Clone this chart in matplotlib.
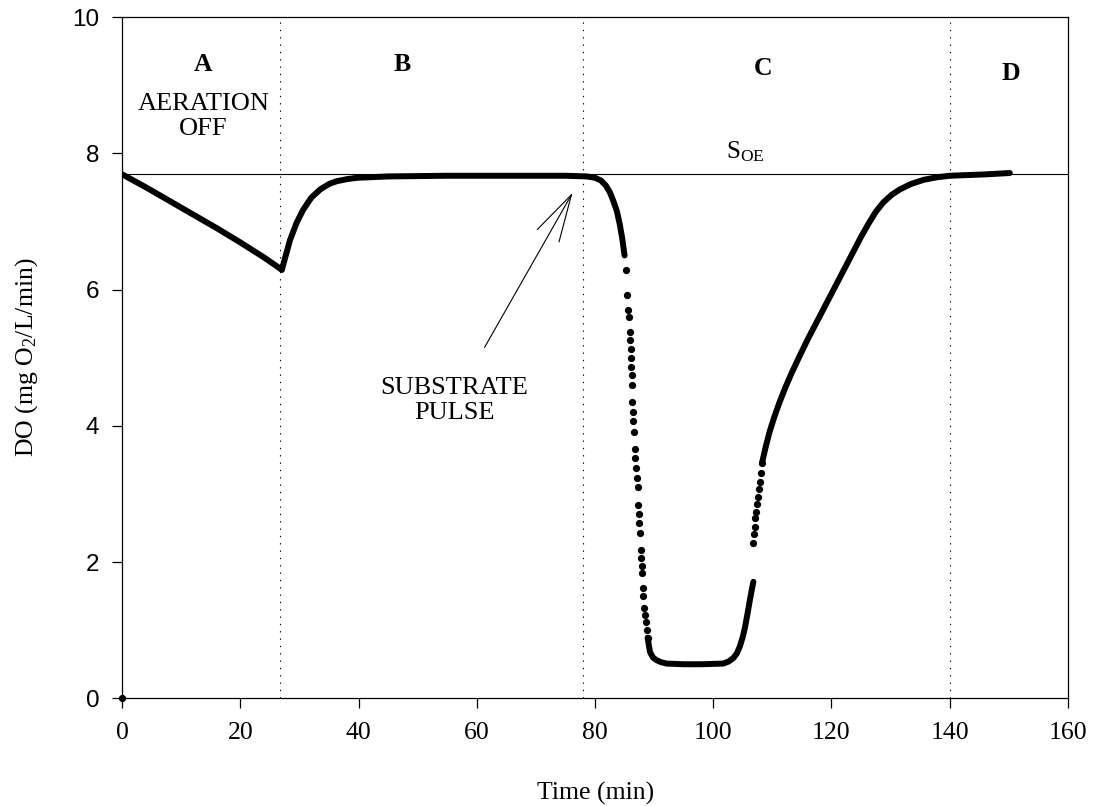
import matplotlib
matplotlib.use('Agg')
import matplotlib.pyplot as plt

plt.rcParams['font.family'] = 'Liberation Serif'
plt.rcParams['mathtext.fontset'] = 'custom'
plt.rcParams['mathtext.rm'] = 'Liberation Serif'
plt.rcParams['mathtext.it'] = 'Liberation Serif:italic'
plt.rcParams['mathtext.bf'] = 'Liberation Serif:bold'

# DO readings (mg O2/L/min) against time (min), split by how densely the dots sit
t_aeration_off = [0, 4, 8, 12, 16, 20, 24, 27.0]
do_aeration_off = [7.69, 7.50, 7.30, 7.10, 6.90, 6.69, 6.47, 6.29]

t_reaeration = [27.0, 27.5, 28.4, 29.5, 30.6, 32, 33.5, 35, 36.3, 38, 39.7, 45, 55,
                65, 75, 78.6, 80, 81, 81.8, 82.5, 83.1, 83.7, 84.2, 84.6, 85.0]
do_reaeration = [6.29, 6.45, 6.73, 6.98, 7.17, 7.35, 7.47, 7.55, 7.59, 7.62, 7.64, 7.66,
                 7.67, 7.67, 7.67, 7.66, 7.64, 7.60, 7.53, 7.43, 7.30, 7.15, 6.95, 6.75,
                 6.50]

t_drop = [85.2, 85.4, 85.6, 85.7, 85.9, 86.0, 86.05, 86.1, 86.15, 86.2, 86.2, 86.3,
          86.4, 86.5, 86.6, 86.7, 86.8, 86.9, 87.05, 87.2, 87.3, 87.4, 87.5, 87.6,
          87.7, 87.8, 87.9, 88.0, 88.1, 88.2, 88.3, 88.45, 88.6, 88.75, 88.9]
do_drop = [6.29, 5.92, 5.70, 5.59, 5.37, 5.26, 5.13, 4.99, 4.87, 4.74, 4.60, 4.35,
           4.20, 4.07, 3.91, 3.66, 3.52, 3.38, 3.24, 3.10, 2.84, 2.70, 2.57, 2.43,
           2.18, 2.06, 1.94, 1.84, 1.62, 1.50, 1.33, 1.22, 1.12, 1.00, 0.89]

t_trough = [88.9, 89.3, 89.8, 90.4, 91.2, 92.1, 95, 98, 101.7, 102.6, 103.4, 104.0,
            104.5, 105.0, 105.4, 105.8, 106.2, 106.5, 106.8]
do_trough = [0.89, 0.68, 0.60, 0.56, 0.53, 0.51, 0.50, 0.50, 0.51, 0.54, 0.59, 0.66,
             0.76, 0.90, 1.05, 1.24, 1.44, 1.58, 1.71]

t_jump = [106.8, 106.9, 107.0, 107.15, 107.3, 107.45, 107.6, 107.75, 107.9, 108.05, 108.25]
do_jump = [2.28, 2.41, 2.52, 2.64, 2.74, 2.85, 2.96, 3.07, 3.17, 3.30, 3.45]

t_recovery = [108.25, 108.8, 109.5, 110.3, 111.2, 112.2, 113.3, 114.6, 116, 117.5,
              119, 120.5, 122, 123.5, 125, 126.3, 127.5, 128.8, 130.2, 131.6,
              133.5, 135.6, 138, 140.1, 143, 146, 150.2]
do_recovery = [3.45, 3.66, 3.90, 4.12, 4.34, 4.56, 4.78, 5.02, 5.27, 5.52,
               5.77, 6.02, 6.27, 6.52, 6.77, 6.97, 7.14, 7.28, 7.39, 7.47,
               7.55, 7.61, 7.65, 7.67, 7.68, 7.69, 7.71]

s_oe = 7.69
phase_bounds = [26.7, 78.0, 140.0]
phase_names = ['A', 'B', 'C', 'D']
phase_x = [13.7, 47.4, 108.5, 150.4]
phase_y = [9.3, 9.3, 9.25, 9.17]

fig = plt.figure(figsize=(10.93, 8.06), dpi=100)
ax = fig.add_axes([0.1119, 0.1336, 0.8650, 0.8453])

dense = dict(color='black', lw=4.3, solid_capstyle='round', solid_joinstyle='round')
dots = dict(color='black', marker='o', ms=4.2, ls='none')

ax.plot(t_aeration_off, do_aeration_off, **dense)
ax.plot(t_reaeration, do_reaeration, **dense)
ax.plot(t_drop, do_drop, **dots)
ax.plot(t_trough, do_trough, **dense)
ax.plot(t_jump, do_jump, **dots)
ax.plot(t_recovery, do_recovery, **dense)
ax.plot([0], [0], clip_on=False, zorder=5, **dots)

ax.axhline(s_oe, color='black', lw=0.8)
for xb in phase_bounds:
    ax.axvline(xb, color='black', lw=0.8, linestyle=(0, (1.2, 5.4)))

for name, x, y in zip(phase_names, phase_x, phase_y):
    ax.text(x, y, name, ha='center', va='center', fontsize=18.5, fontweight='bold')

ax.text(13.7, 8.54, 'AERATION\nOFF', ha='center', va='center', fontsize=19,
        linespacing=1.15)
ax.text(105.4, 7.93, r'$\mathrm{S_{OE}}$', ha='center', va='baseline', fontsize=18)
ax.text(56.2, 4.37, 'SUBSTRATE\nPULSE', ha='center', va='center', fontsize=19,
        linespacing=1.15)
ax.annotate('', xy=(76.2, 7.42), xytext=(61.3, 5.15),
            arrowprops=dict(arrowstyle='->,head_length=1.7,head_width=0.45',
                            mutation_scale=20, lw=0.8, color='black',
                            shrinkA=0, shrinkB=0))

ax.set_xlim(0, 160)
ax.set_ylim(0, 10)
ax.set_xticks(range(0, 161, 20))
ax.set_yticks(range(0, 11, 2))
for sp in ax.spines.values():
    sp.set_linewidth(0.9)
ax.tick_params(direction='out', length=7, width=0.9)
ax.tick_params(axis='x', labelsize=18.5, pad=10)
ax.tick_params(axis='y', labelsize=17.5, pad=9.5)
for lab in ax.get_yticklabels():
    lab.set_fontfamily('Liberation Sans')

fig.text(595.5 / 1093, 1 - 793 / 806, 'Time (min)', ha='center', va='center',
         fontsize=18.5)
fig.text(27 / 1093, 1 - 357.5 / 806, r'DO (mg O$_2$/L/min)', ha='center',
         va='center', rotation=90, fontsize=18.5)

fig.savefig('out.png', dpi=100)
